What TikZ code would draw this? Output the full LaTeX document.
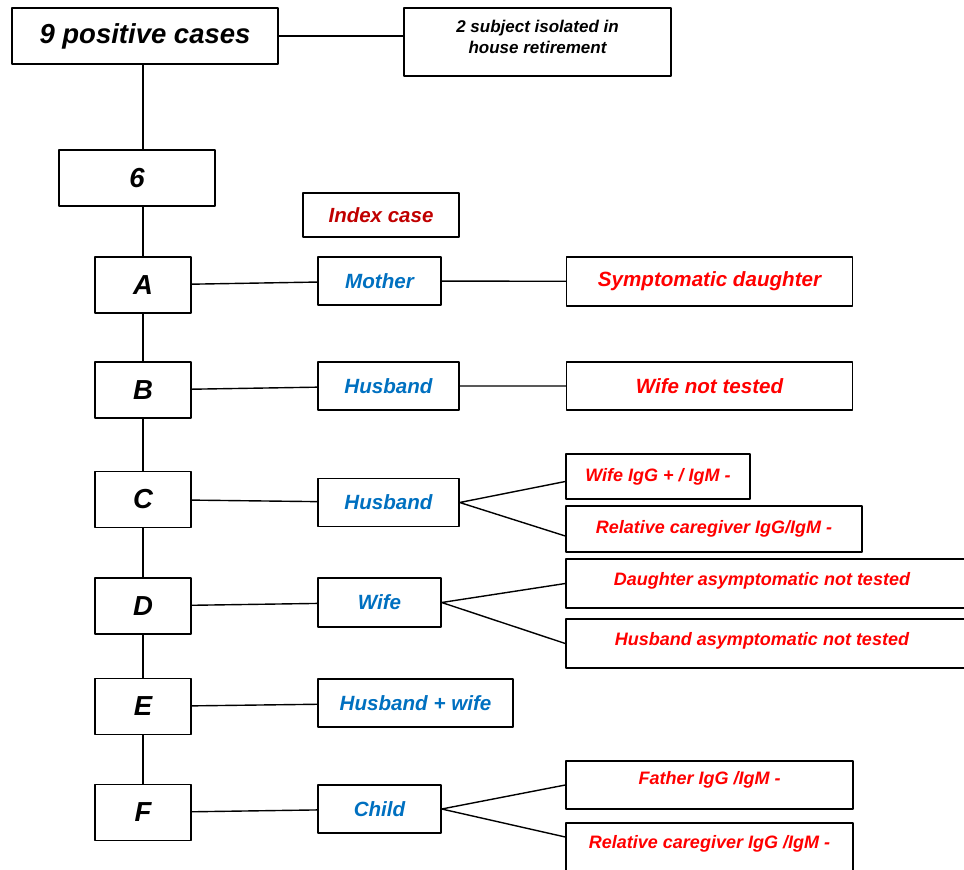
\documentclass[tikz,border=0pt]{standalone}
\usepackage{fontspec}
\setmainfont{Liberation Sans}
\definecolor{pblue}{HTML}{0070C0}
\definecolor{rred}{HTML}{FF0000}
\definecolor{ired}{HTML}{C00000}
\begin{document}
\begin{tikzpicture}[x=1pt, y=-1pt, line join=round, line width=1.4pt,
	box/.style={draw, inner sep=0pt, align=center},
	big/.style={box, font=\bfseries\itshape\fontsize{27.5}{32}\selectfont},
	small/.style={box, font=\bfseries\itshape\fontsize{17}{21}\selectfont},
	pers/.style={box, text=pblue, font=\bfseries\itshape\fontsize{20.6}{24}\selectfont},
	res/.style={box, text=rred, font=\bfseries\itshape\fontsize{18}{21}\selectfont},
	case/.style={big, minimum width=96pt, minimum height=56pt}]
	\useasboundingbox (0,0) rectangle (964,870);
	\clip (0,0) rectangle (964,870);
	% Tong so ca
	\node[big, minimum width=266pt, minimum height=56pt] (pos) at (145,36) {9 positive cases};
	\node[small, text depth=11pt, minimum width=267pt, minimum height=68pt] (iso) at (537.5,42) {2 subject isolated in\\house retirement};
	\node[big, minimum width=156pt, minimum height=56pt] (six) at (137,178) {6};
	\node[box, text=ired, font=\bfseries\itshape\fontsize{20.5}{24}\selectfont, minimum width=156pt, minimum height=44pt] (idx) at (381,215) {Index case};
	% Cac ho A--F
	\node[case] (A) at (143,285) {A};
	\node[case] (B) at (143,390) {B};
	\node[case] (C) at (143,499.5) {C};
	\node[case] (D) at (143,606) {D};
	\node[case] (E) at (143,706.5) {E};
	\node[case] (F) at (143,812.5) {F};
	% Ca chi diem
	\node[pers, minimum width=123pt, minimum height=48pt] (mom) at (379.5,281) {Mother};
	\node[pers, minimum width=141pt, minimum height=48pt] (husB) at (388.5,386) {Husband};
	\node[pers, minimum width=141pt, minimum height=48pt] (husC) at (388.5,502.5) {Husband};
	\node[pers, minimum width=123pt, minimum height=49pt] (wifeD) at (379.5,602.5) {Wife};
	\node[pers, minimum width=195pt, minimum height=48pt] (hw) at (415.5,703) {Husband + wife};
	\node[pers, minimum width=123pt, minimum height=48pt] (child) at (379.5,809) {Child};
	% Tiep xuc
	\node[res, font=\bfseries\itshape\fontsize{20.6}{24}\selectfont, minimum width=286pt, minimum height=49pt] (symp) at (709.5,281.5) {Symptomatic daughter};
	\node[res, font=\bfseries\itshape\fontsize{20.6}{24}\selectfont, minimum width=286pt, minimum height=48pt] (wnt) at (709.5,386) {Wife not tested};
	\node[res, minimum width=184pt, minimum height=45pt] (wifeC) at (658,476.5) {Wife IgG + / IgM -};
	\node[res, minimum width=296pt, minimum height=46pt] (relC) at (714,529) {Relative caregiver IgG/IgM -};
	\node[res, text depth=10pt, minimum width=424pt, minimum height=49pt] (dau) at (778,583.5) {\hspace*{-32pt}Daughter asymptomatic not tested};
	\node[res, text depth=10pt, minimum width=424pt, minimum height=49pt] (husD) at (778,643.5) {\hspace*{-32pt}Husband asymptomatic not tested};
	\node[res, text depth=14pt, minimum width=287pt, minimum height=48pt] (fat) at (709.5,785) {Father IgG /IgM -};
	\node[res, text depth=22pt, minimum width=287pt, minimum height=60pt] (relF) at (709.5,853) {Relative caregiver IgG /IgM -};
	% Duong noi
	\draw (pos) -- (iso.west |- pos);
	\draw (pos.south -| A) -- (six.north -| A) (six.south -| A) -- (A) -- (B) -- (C) -- (D) -- (E) -- (F);
	\draw (A) -- (mom) -- (symp);
	\draw (B) -- (husB) -- (wnt);
	\draw (C) -- (husC);
	\draw ([yshift=-5pt]wifeC.west) -- (husC.east) -- ([yshift=-7pt]relC.west);
	\draw (D) -- (wifeD);
	\draw (dau.west) -- (wifeD.east) -- (husD.west);
	\draw (E) -- (hw);
	\draw (F) -- (child);
	\draw (fat.west) -- (child.east) -- ([yshift=16pt]relF.west);
\end{tikzpicture}
\end{document}
